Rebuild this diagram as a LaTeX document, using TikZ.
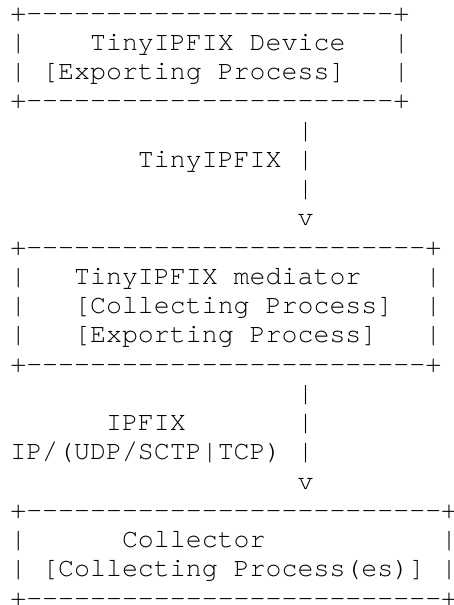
\documentclass[tikz,border=0pt]{standalone}
\usepackage{fontspec}
\newfontfamily\asc{texgyrecursor-regular.otf}
\ExplSyntaxOn
\cs_new:Npn \asciirep #1#2 { \prg_replicate:nn {#1} {#2} }
\ExplSyntaxOff
\newcommand\dashrow[1]{+\asciirep{#1}{-\kern0pt}+}
\newcommand\cx[1]{10.3+15.96*(#1)}
\newcommand\ly[1]{-21-29.25*((#1)-1)}
\begin{document}
\begin{tikzpicture}[x=1pt,y=1pt,
  ascii/.style={anchor=base west, inner sep=0pt, outer sep=0pt,
    font=\asc\fontsize{26.6}{29.25}\selectfont, text=black}]
\fill[white] (0,0) rectangle (453,-605);
\useasboundingbox (0,0) rectangle (453,-605);
% TinyIPFIX Device box
\node[ascii] (devtop) at ({\cx{0}},{\ly{1}}) {\dashrow{23}};
\node[ascii] (devl2) at ({\cx{0}},{\ly{2}}) {|};
\node[ascii] (devname) at ({\cx{5}},{\ly{2}}) {TinyIPFIX Device};
\node[ascii] (devr2) at ({\cx{24}},{\ly{2}}) {|};
\node[ascii] (devl3) at ({\cx{0}},{\ly{3}}) {|};
\node[ascii] (devproc) at ({\cx{2}},{\ly{3}}) {[Exporting Process]};
\node[ascii] (devr3) at ({\cx{24}},{\ly{3}}) {|};
\node[ascii] (devbot) at ({\cx{0}},{\ly{4}}) {\dashrow{23}};
% first arrow
\node[ascii] (a1) at ({\cx{18}},{\ly{5}}) {|};
\node[ascii] (lab1) at ({\cx{8}},{\ly{6}}) {TinyIPFIX};
\node[ascii] (a2) at ({\cx{18}},{\ly{6}}) {|};
\node[ascii] (a3) at ({\cx{18}},{\ly{7}}) {|};
\node[ascii] (a4) at ({\cx{18}},{\ly{8}}) {v};
% mediator box
\node[ascii] (medtop) at ({\cx{0}},{\ly{9}}) {\dashrow{25}};
\node[ascii] (medl10) at ({\cx{0}},{\ly{10}}) {|};
\node[ascii] (medname) at ({\cx{4}},{\ly{10}}) {TinyIPFIX mediator};
\node[ascii] (medr10) at ({\cx{26}},{\ly{10}}) {|};
\node[ascii] (medl11) at ({\cx{0}},{\ly{11}}) {|};
\node[ascii] (medcol) at ({\cx{4}},{\ly{11}}) {[Collecting Process]};
\node[ascii] (medr11) at ({\cx{26}},{\ly{11}}) {|};
\node[ascii] (medl12) at ({\cx{0}},{\ly{12}}) {|};
\node[ascii] (medexp) at ({\cx{4}},{\ly{12}}) {[Exporting Process]};
\node[ascii] (medr12) at ({\cx{26}},{\ly{12}}) {|};
\node[ascii] (medbot) at ({\cx{0}},{\ly{13}}) {\dashrow{25}};
% second arrow
\node[ascii] (b1) at ({\cx{18}},{\ly{14}}) {|};
\node[ascii] (lab2) at ({\cx{6}},{\ly{15}}) {IPFIX};
\node[ascii] (b2) at ({\cx{18}},{\ly{15}}) {|};
\node[ascii] (lab3) at ({\cx{0}},{\ly{16}}) {IP/(UDP/SCTP|TCP)};
\node[ascii] (b3) at ({\cx{18}},{\ly{16}}) {|};
\node[ascii] (b4) at ({\cx{18}},{\ly{17}}) {v};
% collector box
\node[ascii] (coltop) at ({\cx{0}},{\ly{18}}) {\dashrow{26}};
\node[ascii] (coll19) at ({\cx{0}},{\ly{19}}) {|};
\node[ascii] (colname) at ({\cx{7}},{\ly{19}}) {Collector};
\node[ascii] (colr19) at ({\cx{27}},{\ly{19}}) {|};
\node[ascii] (coll20) at ({\cx{0}},{\ly{20}}) {|};
\node[ascii] (colproc) at ({\cx{2}},{\ly{20}}) {[Collecting Process(es)]};
\node[ascii] (colr20) at ({\cx{27}},{\ly{20}}) {|};
\node[ascii] (colbot) at ({\cx{0}},{\ly{21}}) {\dashrow{26}};
\end{tikzpicture}
\end{document}
